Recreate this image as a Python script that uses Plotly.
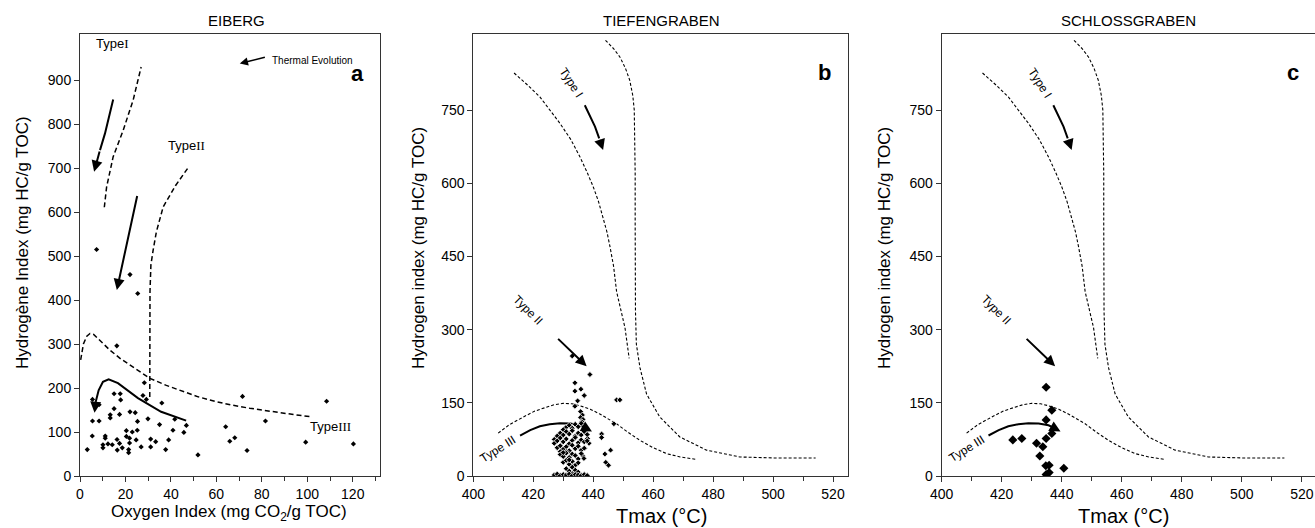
import plotly.graph_objects as go

FONT = "Liberation Sans, Arial, sans-serif"

# ---------------- Panel a : EIBERG (OI vs HI) ----------------
a_oi = [7.3, 22, 25.4, 16.2, 28.3, 5.5, 8.4, 15, 17.7, 17.9, 27.7, 29.2, 36, 15, 13.3, 13.3, 17.4, 22, 24.3,
        5.5, 8.4, 25.3, 29.9, 35, 41.7, 46.8, 5.4, 11.1, 11.1, 20.4, 23, 25.2, 20.4, 21.8, 10.1, 10.1, 12.3,
        14.2, 16.3, 17.4, 18.6, 16.4, 21.8, 21.4, 21.4, 24.7, 26.9, 31.1, 31.1, 33.3, 39, 40.9, 37.7, 45.7,
        3.2, 51.9, 64.1, 65.9, 68.1, 71.5, 73.5, 81.6, 99.3, 108.5, 120.3]
a_hi = [515, 458, 415, 296, 212, 174, 162, 187, 187, 173, 183, 174, 166, 153, 139, 132, 140, 146, 144,
        125, 125, 124, 130, 117, 129, 115, 91, 91, 86, 103, 100, 104, 90, 86, 71, 64, 73,
        71, 83, 74, 64, 59, 75, 60, 53, 82, 66, 84, 66, 78, 82, 104, 60, 99,
        60, 48, 112, 79, 87, 181, 58, 125, 77, 170, 73]

# reference evolution curves
a_t1_x = [10.7, 11.7, 14.6, 19, 23.4, 25.6, 26.9]
a_t1_y = [611, 657, 726, 786, 855, 900, 930]
a_t2_x = [47.3, 42, 36.6, 33.6, 32.2, 31.2, 30.8, 30.7, 30.7]
a_t2_y = [699, 660, 612, 555, 514, 480, 420, 300, 173]
a_t3_x = [0.3, 1.5, 3, 4.4, 6, 9, 13.2, 18, 23.4, 30.8, 38, 45.4, 52, 60, 67, 74.7, 82, 89.4, 95, 101]
a_t3_y = [264, 300, 318, 324, 322, 307, 286, 266, 248, 222, 206, 192, 180, 169, 161, 154, 148, 142, 139, 135]
# arrows
a_arr1_x = [14.6, 13.2, 11, 8.8, 6.2]
a_arr1_y = [856, 824, 779, 741, 692]
a_arr2_x = [25.3, 16.2]
a_arr2_y = [640, 423]
a_arr3_x = [46.7, 35.7, 25.5, 16.7, 12.6, 10.1, 8.2, 6.9, 6.4]
a_arr3_y = [126, 146, 177, 211, 220, 214, 195, 168, 144]
a_th_x = [82, 70.3]
a_th_y = [953, 938]

# ---------------- Panels b, c : Tmax vs HI ----------------
b_tmax = [433, 438.9, 433.9, 435.9, 433.9, 437, 434.8, 447.8, 448.9, 433.9, 435.8, 436.4, 435.8, 436.6, 436.2,
          446.9, 442.8, 442.8, 445.8, 443.9, 444.2, 445.1, 438.1, 438.6, 437.2, 436.6, 436.9, 427, 427,
          431, 432, 433, 434, 435, 436, 437, 430,
          429, 430, 431, 432, 433, 434, 435, 436, 437, 438, 428,
          428, 429, 430, 431, 432, 433, 434, 435, 436, 437, 438,
          428, 429, 430, 431, 432, 433, 434, 435, 436, 437, 429, 431,
          429, 430, 431, 432, 433, 434, 435, 436, 430,
          430, 431, 432, 433, 434, 435, 432,
          431, 432, 433, 434, 435, 433,
          427, 428, 429, 430, 431, 432, 433, 434, 435, 436, 437, 438]
b_hi = [246, 208, 191, 178, 174, 165, 154, 156, 156, 143, 132, 125, 120, 116, 111,
        107, 86, 79, 53, 45, 28, 22, 77, 67, 57, 41, 36, 75, 67,
        100, 104, 98, 106, 101, 108, 96, 95,
        88, 84, 91, 86, 93, 82, 88, 84, 91, 85, 82,
        72, 78, 70, 76, 66, 73, 79, 68, 74, 70, 72,
        58, 62, 55, 60, 52, 63, 56, 61, 53, 57, 50, 50,
        44, 40, 47, 38, 45, 42, 35, 46, 48,
        28, 32, 24, 30, 22, 27, 33,
        15, 10, 18, 12, 8, 5,
        2, 4, 1, 3, 2, 4, 1, 3, 2, 1, 3, 1]

c_tmax = [434.8, 436.7, 434.8, 436.7, 434.8, 423.7, 426.7, 431.6, 433.7, 432.7, 434.7, 435.8, 440.7, 434.8, 435.8]
c_hi = [182, 135, 115, 87, 77, 74, 77, 67, 60, 41, 21, 22, 16, 3, 7]

# reference evolution curves shared by panels b and c
t_I_out_x = [413.6, 418, 422.2, 425.7, 428.9, 432.5, 435.6, 438, 440, 441.8, 443.3, 444.6, 445.6, 446.8,
             447.8, 449.3, 450.6, 452]
t_I_out_y = [826, 802, 777, 750, 723, 690, 654, 622, 593, 562, 531, 500, 470, 430,
             378, 340, 304, 241]
t_I_in_x = [444.1, 446.8, 448.9, 450.8, 452.2, 453.2, 453.7, 453.9, 454, 454, 454, 454.1, 454.4, 455.6,
            457.8, 462.2, 468.9, 477.8, 488.9, 500, 514.2]
t_I_in_y = [893, 876, 859, 835, 811, 780, 750, 700, 620, 520, 429, 338, 270, 222,
            168, 121, 80, 53, 39, 37, 37]
t_bell_x = [408.3, 412, 416.7, 420.5, 424.4, 427, 430, 433, 435.6, 439, 442.2, 445, 447.8, 451.5, 455.6,
            460, 464.4, 469, 474.4]
t_bell_y = [88, 105, 121, 133, 141, 146, 149, 148, 144, 137, 127, 117, 107, 90, 73,
            58, 46, 39, 34]
t_arrI_x = [437.2, 439, 440.6, 442, 443.3]
t_arrI_y = [760, 738, 716, 692, 668]
t_arrII_x = [427.8, 437.8]
t_arrII_y = [284, 225]
t_arrIII_x = [415.6, 419, 422.2, 425.5, 428.9, 432.3, 435.6, 437.6, 439.6]
t_arrIII_y = [83, 94, 102, 106, 108, 107.5, 104, 98, 91]

fig = go.Figure()


def line(x, y, xa, ya, dash=None, width=1.2):
    fig.add_trace(go.Scatter(x=x, y=y, mode="lines", xaxis=xa, yaxis=ya, hoverinfo="skip",
                             line=dict(color="black", width=width, dash=dash), showlegend=False))


anns = []


def arrow(x, y, xa, ya, width=2):
    # shaft along the curve, head as an annotation arrow on the last segment
    if len(x) > 2:
        line(x[:-1], y[:-1], xa, ya, width=width)
    anns.append(dict(x=x[-1], y=y[-1], ax=x[-2], ay=y[-2], xref=xa, yref=ya,
                     axref=xa, ayref=ya, showarrow=True, arrowhead=2, arrowsize=1.1,
                     arrowwidth=width, arrowcolor="black", text=""))


def txt(text, x, y, xref, yref, size=13, angle=0, bold=False, xanchor="center"):
    if bold:
        text = "<b>" + text + "</b>"
    anns.append(dict(text=text, x=x, y=y, xref=xref, yref=yref, showarrow=False,
                     textangle=angle, xanchor=xanchor, yanchor="middle",
                     font=dict(family=FONT, size=size, color="black")))


DASH_A = "5px,3px"
DASH_B = "3px,2px"

# ---- panel a
line(a_t1_x, a_t1_y, "x", "y", dash=DASH_A, width=1.5)
line(a_t2_x, a_t2_y, "x", "y", dash=DASH_A, width=1.5)
line(a_t3_x, a_t3_y, "x", "y", dash=DASH_A, width=1.5)
arrow(a_arr1_x, a_arr1_y, "x", "y")
arrow(a_arr2_x, a_arr2_y, "x", "y")
arrow(a_arr3_x, a_arr3_y, "x", "y")
arrow(a_th_x, a_th_y, "x", "y", width=1.5)
fig.add_trace(go.Scatter(x=a_oi, y=a_hi, mode="markers", xaxis="x", yaxis="y", showlegend=False,
                         marker=dict(symbol="diamond", size=4, color="black")))
SER = "<span style='font-family:Liberation Serif'>%s</span>"
txt("Type" + SER % "I", 14.5, 984, "x", "y", size=13)
txt("Type" + SER % "II", 47, 751, "x", "y", size=13)
txt("Type" + SER % "III", 110, 113, "x", "y", size=13)
txt("Thermal Evolution", 83.5, 945, "x", "y", size=10, xanchor="left")
txt("a", 122, 916, "x", "y", size=22, bold=True)

# ---- panels b and c
for xa, ya, xs, ys, msize, lab in [("x2", "y2", b_tmax, b_hi, 4.5, "b"), ("x3", "y3", c_tmax, c_hi, 7, "c")]:
    line(t_I_out_x, t_I_out_y, xa, ya, dash=DASH_B, width=1.1)
    line(t_I_in_x, t_I_in_y, xa, ya, dash=DASH_B, width=1.1)
    line(t_bell_x, t_bell_y, xa, ya, dash=DASH_B, width=1.1)
    arrow(t_arrI_x, t_arrI_y, xa, ya)
    arrow(t_arrII_x, t_arrII_y, xa, ya)
    arrow(t_arrIII_x, t_arrIII_y, xa, ya)
    fig.add_trace(go.Scatter(x=xs, y=ys, mode="markers", xaxis=xa, yaxis=ya, showlegend=False,
                             marker=dict(symbol="diamond", size=msize, color="black",
                                         line=dict(color="white", width=0.8 if lab == "b" else 0))))
    txt("Type I", 432.8, 806, xa, ya, size=12, angle=57)
    txt("Type II", 418.2, 340, xa, ya, size=12, angle=45)
    txt("Type III", 408.2, 56, xa, ya, size=12, angle=-32)
    txt(lab, 517.2, 828, xa, ya, size=22, bold=True)

# ---- titles and axis titles (paper coords)
H = 528.0
W = 1315.0
def P(px, py):
    return px / W, 1 - py / H

for text, px, py, size in [("EIBERG", 236.5, 20.5, 15), ("TIEFENGRABEN", 661, 20.5, 15),
                           ("SCHLOSSGRABEN", 1128, 20.5, 15)]:
    x, y = P(px, py)
    txt(text, x, y, "paper", "paper", size=size)

x, y = P(22, 243); txt("Hydrogène Index (mg HC/g TOC)", x, y, "paper", "paper", size=17, angle=-90)
x, y = P(418, 248); txt("Hydrogen index (mg HC/g TOC)", x, y, "paper", "paper", size=17, angle=-90)
x, y = P(884, 248); txt("Hydrogen index (mg HC/g TOC)", x, y, "paper", "paper", size=17, angle=-90)
x, y = P(229, 513); txt("Oxygen Index (mg CO<sub>2</sub>/g TOC)", x, y, "paper", "paper", size=17)
x, y = P(661, 516); txt("Tmax (°C)", x, y, "paper", "paper", size=20)
x, y = P(1123, 516); txt("Tmax (°C)", x, y, "paper", "paper", size=20)

ydom = [1 - 476 / H, 1 - 34 / H]
axline = dict(showline=True, linecolor="#333", linewidth=1, showgrid=False, zeroline=False, automargin=False,
              ticks="outside", tickcolor="#333", ticklen=5, tickfont=dict(family=FONT, size=14, color="black"))

fig.update_layout(
    width=1315, height=528, margin=dict(l=0, r=0, t=0, b=0, autoexpand=False),
    paper_bgcolor="white", plot_bgcolor="white", showlegend=False,
    xaxis=dict(domain=[80 / W, 380 / W], range=[0, 132], tickvals=[0, 20, 40, 60, 80, 100, 120],
               minor=dict(tickvals=[10, 30, 50, 70, 90, 110, 130], ticks="outside", ticklen=4, tickcolor="#333"),
               mirror=True, anchor="y", **axline),
    yaxis=dict(domain=ydom, range=[0, 1005], tickvals=list(range(0, 1000, 100)), mirror=True,
               anchor="x", **axline),
    xaxis2=dict(domain=[473.3 / W, 848 / W], range=[400, 525], tickvals=list(range(400, 521, 20)),
                minor=dict(tickvals=list(range(410, 525, 20)), ticks="outside", ticklen=4, tickcolor="#333"),
                mirror=True, anchor="y2", **axline),
    yaxis2=dict(domain=ydom, range=[0, 906], tickvals=[0, 150, 300, 450, 600, 750], mirror=True,
                anchor="x2", **axline),
    xaxis3=dict(domain=[941.7 / W, 1.0], range=[400, 524.4], tickvals=list(range(400, 521, 20)),
                minor=dict(tickvals=list(range(410, 525, 20)), ticks="outside", ticklen=4, tickcolor="#333"),
                mirror=True, anchor="y3", **axline),
    yaxis3=dict(domain=ydom, range=[0, 906], tickvals=[0, 150, 300, 450, 600, 750], mirror=True,
                anchor="x3", **axline),
    annotations=anns,
)

fig.write_html("out.html", config={"displayModeBar": False},
               post_script="document.body.style.margin='0px';document.body.style.overflow='hidden';")
